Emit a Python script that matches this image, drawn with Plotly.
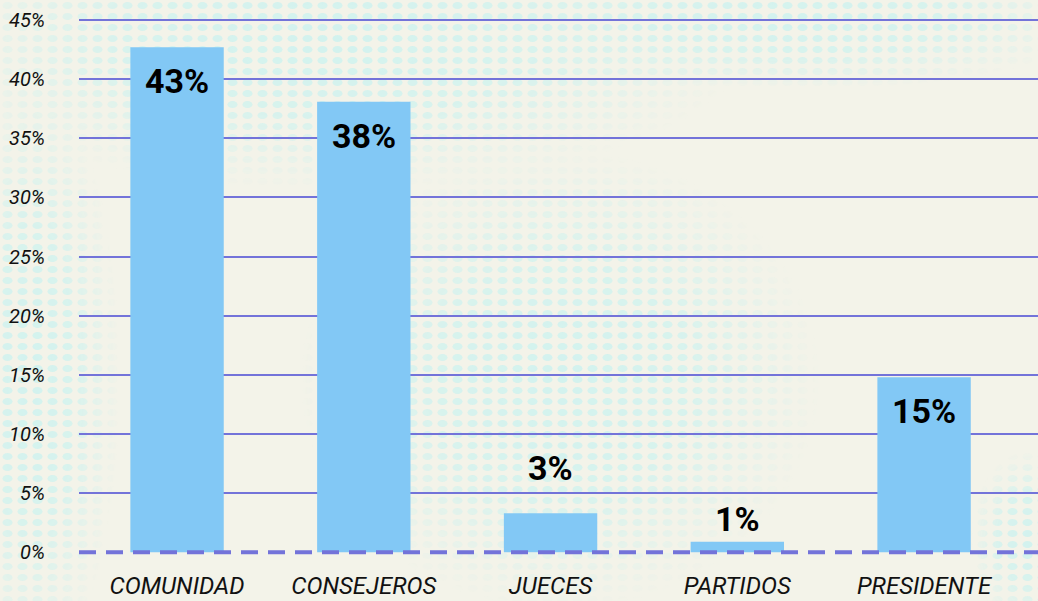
import base64
import plotly.graph_objects as go

categories = ['COMUNIDAD', 'CONSEJEROS', 'JUECES', 'PARTIDOS', 'PRESIDENTE']
values = [42.7, 38.1, 3.3, 0.9, 14.8]
labels = ['43%', '38%', '3%', '1%', '15%']
inside = [True, True, False, False, True]
y_ticks = [0, 5, 10, 15, 20, 25, 30, 35, 40, 45]
y_text = ['0%', '5%', '10%', '15%', '20%', '25%', '30%', '35%', '40%', '45%']

BG = '#f3f3e9'
BAR = '#82c8f5'
GRID = '#7373d9'
FONT = 'Roboto'

# decorative halftone background (svg pattern faded by a mask)
svg = '''<svg xmlns="http://www.w3.org/2000/svg" width="1038" height="601">
<defs>
<pattern id="p" width="15" height="11" patternUnits="userSpaceOnUse">
<ellipse cx="7.5" cy="5.5" rx="5" ry="3.6" fill="#d2f2ee"/></pattern>
<radialGradient id="g"><stop offset="0" stop-color="#fff" stop-opacity="1"/>
<stop offset="0.5" stop-color="#fff" stop-opacity="0.85"/>
<stop offset="1" stop-color="#fff" stop-opacity="0"/></radialGradient>
<mask id="m"><rect width="1038" height="601" fill="#000"/>
<ellipse cx="330" cy="40" rx="420" ry="150" fill="url(#g)"/>
<ellipse cx="560" cy="380" rx="260" ry="230" fill="url(#g)"/>
<ellipse cx="30" cy="380" rx="90" ry="300" fill="url(#g)"/>
<ellipse cx="1030" cy="540" rx="60" ry="90" fill="url(#g)"/>
<ellipse cx="800" cy="20" rx="300" ry="70" fill="url(#g)"/>
</mask></defs>
<rect width="1038" height="601" fill="url(#p)" mask="url(#m)"/></svg>'''
src = 'data:image/svg+xml;base64,' + base64.b64encode(svg.encode()).decode()

fig = go.Figure(go.Bar(
    x=categories, y=values,
    marker=dict(color=BAR, line=dict(width=0)),
    width=0.5, hoverinfo='skip',
))

# label offsets in pixels from the bar top
shifts = [-12, -12, 23, 1, -12]
for c, v, t, ins, s in zip(categories, values, labels, inside, shifts):
    fig.add_annotation(
        x=c, y=v, text=t, showarrow=False,
        yanchor='top' if ins else 'bottom', yshift=s,
        font=dict(family=FONT, size=34, color='#000000', weight='bold'),
    )

fig.add_shape(type='line', xref='paper', x0=0, x1=1, yref='y', y0=0, y1=0,
              line=dict(color=GRID, width=4, dash='17px,10px'), layer='above')

fig.add_layout_image(
    source=src, xref='paper', yref='paper',
    x=-79 / 959, y=1, sizex=1038 / 959, sizey=601 / 557,
    xanchor='left', yanchor='top', sizing='stretch', layer='below',
)

fig.update_layout(
    width=1038, height=601,
    margin=dict(l=79, r=0, t=0, b=44, autoexpand=False),
    paper_bgcolor=BG, plot_bgcolor='rgba(0,0,0,0)',
    showlegend=False,
    xaxis=dict(
        range=[-0.525, 4.61], showgrid=False, zeroline=False, showline=False,
        ticks='', ticklabelstandoff=12, tickangle=0, automargin=False,
        tickfont=dict(family=FONT, size=24, color='#111111', style='italic'),
    ),
    yaxis=dict(
        range=[-0.4, 46.7], tickvals=y_ticks, ticktext=y_text,
        showgrid=True, gridcolor=GRID, gridwidth=2,
        zeroline=True, zerolinecolor=BG, zerolinewidth=2,
        showline=False, ticks='', ticklabelstandoff=33, automargin=False,
        tickfont=dict(family=FONT, size=20, color='#111111', style='italic'),
    ),
)

fig.write_html('out.html', config={'displayModeBar': False},
               post_script="document.body.style.margin='0';")
